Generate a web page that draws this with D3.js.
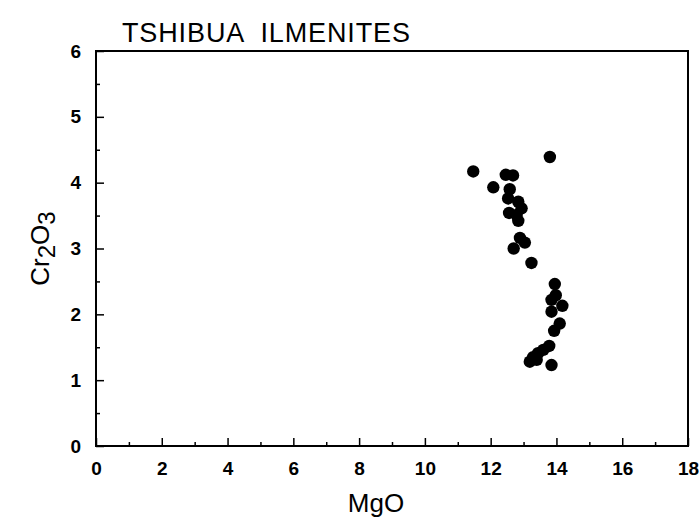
<!DOCTYPE html>
<html><head><meta charset="utf-8">
<script src="https://cdn.jsdelivr.net/npm/d3@7"></script>
<style>body{margin:0;background:#fff}svg{display:block}</style>
</head><body>
<script>
const mgo = [13.8,11.47,12.46,12.68,12.08,12.58,12.53,12.84,12.94,12.56,12.79,12.84,12.89,13.04,12.7,13.24,
  13.95,13.98,13.85,14.18,13.85,14.1,13.93,13.78,13.6,13.44,13.29,13.19,13.85,13.4];
const cr2o3 = [4.39,4.17,4.12,4.11,3.93,3.9,3.76,3.71,3.61,3.54,3.51,3.42,3.16,3.09,3.0,2.78,
  2.46,2.29,2.22,2.13,2.04,1.86,1.75,1.52,1.46,1.41,1.35,1.28,1.23,1.31];
const xTicks = [0,2,4,6,8,10,12,14,16,18];
const yTicks = [0,1,2,3,4,5,6];
const title = "TSHIBUA  ILMENITES";

const W=699,H=518, L=96,R=688,T=51,B=446;
const svg=d3.select("body").append("svg").attr("width",W).attr("height",H);
const x=d3.scaleLinear().domain([0,18]).range([L,R]);
const y=d3.scaleLinear().domain([0,6]).range([B,T]);

svg.append("rect").attr("x",L).attr("y",T).attr("width",R-L).attr("height",B-T)
  .attr("fill","none").attr("stroke","#000").attr("stroke-width",2);

const tickFont="'Liberation Sans', Arial, sans-serif";
const xa=svg.append("g").attr("transform",`translate(0,${B})`)
  .call(d3.axisBottom(x).tickValues(xTicks).tickSize(-8).tickPadding(16).tickFormat(d3.format("d")));
const xm=svg.append("g").attr("transform",`translate(0,${B})`)
  .call(d3.axisBottom(x).tickValues(d3.range(1,18,2)).tickSize(-4).tickFormat(""));
const ya=svg.append("g").attr("transform",`translate(${L},0)`)
  .call(d3.axisLeft(y).tickValues(yTicks).tickSize(-8).tickPadding(15).tickFormat(d3.format("d")));
const ym=svg.append("g").attr("transform",`translate(${L},0)`)
  .call(d3.axisLeft(y).tickValues(d3.range(0.5,6,1)).tickSize(-4).tickFormat(""));
[xa,xm,ya,ym].forEach(g=>{g.select(".domain").remove();g.selectAll("line").attr("stroke","#000").attr("stroke-width",1.5);});
[xa,ya].forEach(g=>g.selectAll("text").attr("font-family",tickFont).attr("font-size",19).attr("font-weight","bold").attr("fill","#000"));

svg.append("g").selectAll("circle").data(mgo.map((m,i)=>[m,cr2o3[i]])).join("circle")
  .attr("cx",d=>x(d[0])).attr("cy",d=>y(d[1])).attr("r",6.2).attr("fill","#000");

svg.append("text").attr("x",122).attr("y",42).attr("font-family",tickFont).attr("font-size",27)
  .attr("textLength",288).attr("lengthAdjust","spacing")
  .attr("xml:space","preserve").style("white-space","pre").attr("fill","#000").text(title);

svg.append("text").attr("x",376).attr("y",512).attr("text-anchor","middle")
  .attr("font-family",tickFont).attr("font-size",26).attr("fill","#000").text("MgO");

const yl=svg.append("text").attr("transform",`translate(49,${(T+B)/2}) rotate(-90)`).attr("text-anchor","middle")
  .attr("font-family",tickFont).attr("font-size",26).attr("fill","#000");
yl.append("tspan").text("Cr");
yl.append("tspan").attr("dy",6).attr("font-size",24).text("2");
yl.append("tspan").attr("dy",-6).text("O");
yl.append("tspan").attr("dy",6).attr("font-size",24).text("3");
</script>
</body></html>
